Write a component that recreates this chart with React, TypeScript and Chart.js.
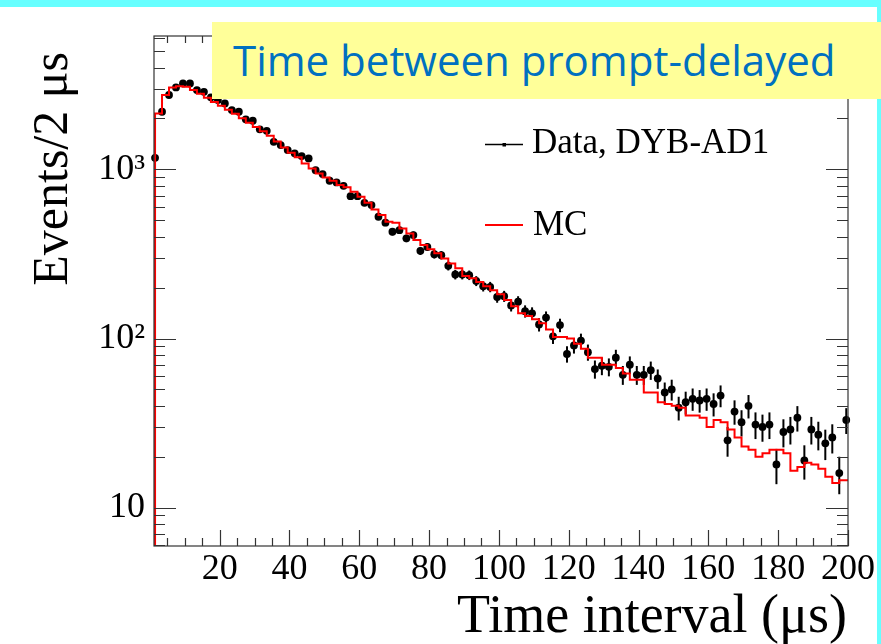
import React, { useEffect, useRef } from 'react';
import { Chart, registerables } from 'chart.js';

Chart.register(...registerables);

// bin centres (μs)
const binCenters = [
  1.5, 3.5, 5.5, 7.5, 9.5, 11.5, 13.5, 15.5, 17.5, 19.5,
  21.5, 23.5, 25.5, 27.5, 29.5, 31.5, 33.5, 35.5, 37.5, 39.5,
  41.5, 43.5, 45.5, 47.5, 49.5, 51.5, 53.5, 55.5, 57.5, 59.5,
  61.5, 63.5, 65.5, 67.5, 69.5, 71.5, 73.5, 75.5, 77.5, 79.5,
  81.5, 83.5, 85.5, 87.5, 89.5, 91.5, 93.5, 95.5, 97.5, 99.5,
  101.5, 103.5, 105.5, 107.5, 109.5, 111.5, 113.5, 115.5, 117.5, 119.5,
  121.5, 123.5, 125.5, 127.5, 129.5, 131.5, 133.5, 135.5, 137.5, 139.5,
  141.5, 143.5, 145.5, 147.5, 149.5, 151.5, 153.5, 155.5, 157.5, 159.5,
  161.5, 163.5, 165.5, 167.5, 169.5, 171.5, 173.5, 175.5, 177.5, 179.5,
  181.5, 183.5, 185.5, 187.5, 189.5, 191.5, 193.5, 195.5, 197.5, 199.5,
];

// Data, DYB-AD1 (events / 2 μs)
const dataValues = [
  1171, 2193, 2754, 3055, 3226, 3226, 2944, 2877, 2667, 2570,
  2457, 2243, 2192, 1977, 1940, 1726, 1692, 1456, 1392, 1301,
  1244, 1199, 1162, 990, 938, 857, 837, 800, 695, 695,
  634, 615, 525, 484, 428, 437, 391, 409, 330, 348,
  315, 311, 269, 239, 239, 237, 219, 204, 202, 176,
  178, 157, 165, 145, 141, 121, 133, 103, 120, 81,
  91, 97, 83, 66, 69, 68, 77, 61, 70, 61,
  61, 65, 58, 48, 50, 39, 42, 44, 43, 44,
  41, 46, 25, 37, 32, 40, 31, 30, 31, 18,
  28, 29, 34, 19, 29, 27, 24, 26, 16, 33,
];

// MC histogram (events / 2 μs), one value per step starting at each bin centre
const mcValues = [
  1490, 2143, 2754, 3050, 3100, 3080, 2950, 2800, 2650, 2500,
  2380, 2250, 2130, 2010, 1890, 1780, 1680, 1580, 1460, 1349,
  1254, 1178, 1085, 1014, 947, 897, 857, 808, 783, 737,
  688, 635, 580, 537, 490, 484, 448, 418, 382, 357,
  337, 319, 297, 278, 260, 234, 227, 216, 204, 193,
  183, 169, 155, 141, 136, 130, 123, 113, 102, 102,
  100, 93, 87, 77, 77, 70, 70, 67, 62, 57,
  57, 48, 48, 42, 41, 40, 39, 35, 35, 34,
  30, 33, 32, 29, 26, 23, 22, 20, 21, 22,
  22, 21, 16.5, 17.4, 18.4, 18, 17, 15.2, 14, 14.5,
];

// axis ticks
const xTickValues = [
  5, 10, 15, 20, 25, 30, 35, 40, 45, 50, 55, 60, 65, 70, 75, 80, 85, 90, 95, 100,
  105, 110, 115, 120, 125, 130, 135, 140, 145, 150, 155, 160, 165, 170, 175, 180, 185, 190, 195, 200,
];
const xLabelValues = [20, 40, 60, 80, 100, 120, 140, 160, 180, 200];
const yTickValues = [
  6, 7, 8, 9, 10, 20, 30, 40, 50, 60, 70, 80, 90, 100,
  200, 300, 400, 500, 600, 700, 800, 900, 1000, 2000, 3000, 4000, 5000, 6000,
];
const yMajorValues = [10, 100, 1000];
const yMajorLabels = ['10', '10²', '10³'];

const SERIF = '"Liberation Serif", "Times New Roman", serif';

const rootPlugin = {
  id: 'rootStyle',
  beforeDatasetsDraw(chart: any) {
    const ctx = chart.ctx;
    const xs = chart.scales.x;
    const ys = chart.scales.y;
    const { left, right, top, bottom } = chart.chartArea;
    ctx.save();
    ctx.beginPath();
    ctx.rect(left, top, right - left, bottom - top);
    ctx.clip();
    ctx.strokeStyle = '#000';
    ctx.lineWidth = 2;
    binCenters.forEach((x, i) => {
      const v = dataValues[i];
      const e = Math.sqrt(v);
      const px = xs.getPixelForValue(x);
      const y1 = ys.getPixelForValue(v + e);
      const y0 = ys.getPixelForValue(Math.max(v - e, 1));
      ctx.beginPath();
      ctx.moveTo(px, y0);
      ctx.lineTo(px, y1);
      ctx.stroke();
    });
    ctx.restore();
  },
  afterDraw(chart: any) {
    const ctx = chart.ctx;
    const xs = chart.scales.x;
    const ys = chart.scales.y;
    const { left, right, top, bottom } = chart.chartArea;
    ctx.save();
    ctx.strokeStyle = '#333';
    ctx.lineWidth = 1.2;
    // frame
    ctx.strokeRect(left, top, right - left, bottom - top);
    // x ticks (inside, bottom and top)
    xTickValues.forEach((v) => {
      const px = Math.round(xs.getPixelForValue(v)) + 0.5;
      const major = xLabelValues.includes(v);
      const lb = major ? 16 : 8;
      const lt = major ? 14 : 7;
      ctx.beginPath();
      ctx.moveTo(px, bottom);
      ctx.lineTo(px, bottom - lb);
      ctx.moveTo(px, top);
      ctx.lineTo(px, top + lt);
      ctx.stroke();
    });
    // y ticks (inside, left and right)
    yTickValues.forEach((v) => {
      const py = Math.round(ys.getPixelForValue(v)) + 0.5;
      if (py < top || py > bottom) return;
      const major = yMajorValues.includes(v);
      const len = major ? 22 : 11;
      ctx.beginPath();
      ctx.moveTo(left, py);
      ctx.lineTo(left + len, py);
      ctx.moveTo(right, py);
      ctx.lineTo(right - len, py);
      ctx.stroke();
    });
    ctx.restore();

    // legend
    ctx.save();
    ctx.strokeStyle = '#000';
    ctx.lineWidth = 1.5;
    ctx.beginPath();
    ctx.moveTo(485, 144.5);
    ctx.lineTo(523, 144.5);
    ctx.stroke();
    ctx.fillStyle = '#000';
    ctx.fillRect(502.5, 143, 3.5, 3.5);
    ctx.strokeStyle = '#ff0000';
    ctx.lineWidth = 2;
    ctx.beginPath();
    ctx.moveTo(485, 225);
    ctx.lineTo(523, 225);
    ctx.stroke();
    ctx.font = `35px ${SERIF}`;
    ctx.textAlign = 'left';
    ctx.textBaseline = 'alphabetic';
    ctx.fillText('Data, DYB-AD1', 532, 153);
    ctx.fillText('MC', 533, 235);

    // axis titles
    ctx.font = `54px ${SERIF}`;
    ctx.textAlign = 'right';
    ctx.fillText('Time interval (μs)', 847, 632);
    ctx.font = `50px ${SERIF}`;
    ctx.translate(67, 52);
    ctx.rotate(-Math.PI / 2);
    ctx.textAlign = 'right';
    ctx.fillText('Events/2 μs', 0, 0);
    ctx.restore();
  },
};

export default function App() {
  const ref = useRef<HTMLCanvasElement>(null);

  useEffect(() => {
    document.body.style.margin = '0';
    const mcPoints = [
      { x: binCenters[0], y: 1 },
      ...binCenters.map((x, i) => ({ x, y: mcValues[i] })),
      { x: 201.5, y: mcValues[mcValues.length - 1] },
    ];
    const dataPoints = binCenters.map((x, i) => ({ x, y: dataValues[i] }));

    const chart = new Chart(ref.current as HTMLCanvasElement, {
      type: 'line',
      data: {
        datasets: [
          {
            label: 'MC',
            data: mcPoints,
            stepped: 'after',
            borderColor: '#ff0000',
            borderWidth: 2,
            pointRadius: 0,
            fill: false,
          },
          {
            label: 'Data, DYB-AD1',
            data: dataPoints,
            showLine: false,
            pointRadius: 3.9,
            pointBackgroundColor: '#000',
            pointBorderColor: '#000',
            pointBorderWidth: 0,
            clip: 8,
          },
        ],
      } as any,
      options: {
        responsive: false,
        animation: false,
        events: [],
        layout: { padding: { left: 0, top: 36, right: 33, bottom: 0 } },
        plugins: { legend: { display: false }, tooltip: { enabled: false } },
        scales: {
          x: {
            type: 'linear',
            min: 1.2,
            max: 200,
            afterFit: (s: any) => {
              s.height = 98;
            },
            afterBuildTicks: (s: any) => {
              s.ticks = xTickValues.map((v) => ({ value: v }));
            },
            grid: { display: false, drawTicks: false },
            border: { display: false },
            ticks: {
              autoSkip: false,
              maxRotation: 0,
              minRotation: 0,
              padding: 2,
              color: '#000',
              font: { family: SERIF, size: 36 },
              callback: (v: any) => (xLabelValues.includes(Number(v)) ? String(v) : ''),
            },
          },
          y: {
            type: 'logarithmic',
            min: 5.93,
            max: 6150,
            afterFit: (s: any) => {
              s.width = 154;
            },
            afterBuildTicks: (s: any) => {
              s.ticks = yTickValues.map((v) => ({ value: v }));
            },
            grid: { display: false, drawTicks: false },
            border: { display: false },
            ticks: {
              autoSkip: false,
              padding: 9,
              color: '#000',
              font: { family: SERIF, size: 36 },
              callback: (v: any) => {
                const idx = yMajorValues.indexOf(Number(v));
                return idx >= 0 ? yMajorLabels[idx] : '';
              },
            },
          },
        },
      } as any,
      plugins: [rootPlugin],
    });
    return () => chart.destroy();
  }, []);

  return (
    <div style={{ position: 'relative', width: 881, height: 644, overflow: 'hidden', background: '#fff' }}>
      <canvas ref={ref} width={881} height={644} style={{ position: 'absolute', left: 0, top: 0, display: 'block' }} />
      <div style={{ position: 'absolute', left: 0, top: 0, width: 881, height: 7, background: '#66FFFF' }} />
      <div style={{ position: 'absolute', left: 877, top: 0, width: 4, height: 644, background: '#66FFFF' }} />
      <div
        style={{
          position: 'absolute',
          left: 212,
          top: 22,
          width: 669,
          height: 77,
          background: '#FFFF99',
        }}
      >
        <span
          style={{
            position: 'absolute',
            left: 21,
            top: 17,
            fontFamily: '"Open Sans", "Noto Sans", sans-serif',
            fontSize: 42,
            lineHeight: '42px',
            color: '#0070C0',
            whiteSpace: 'nowrap',
          }}
        >
          Time between prompt-delayed
        </span>
      </div>
    </div>
  );
}
